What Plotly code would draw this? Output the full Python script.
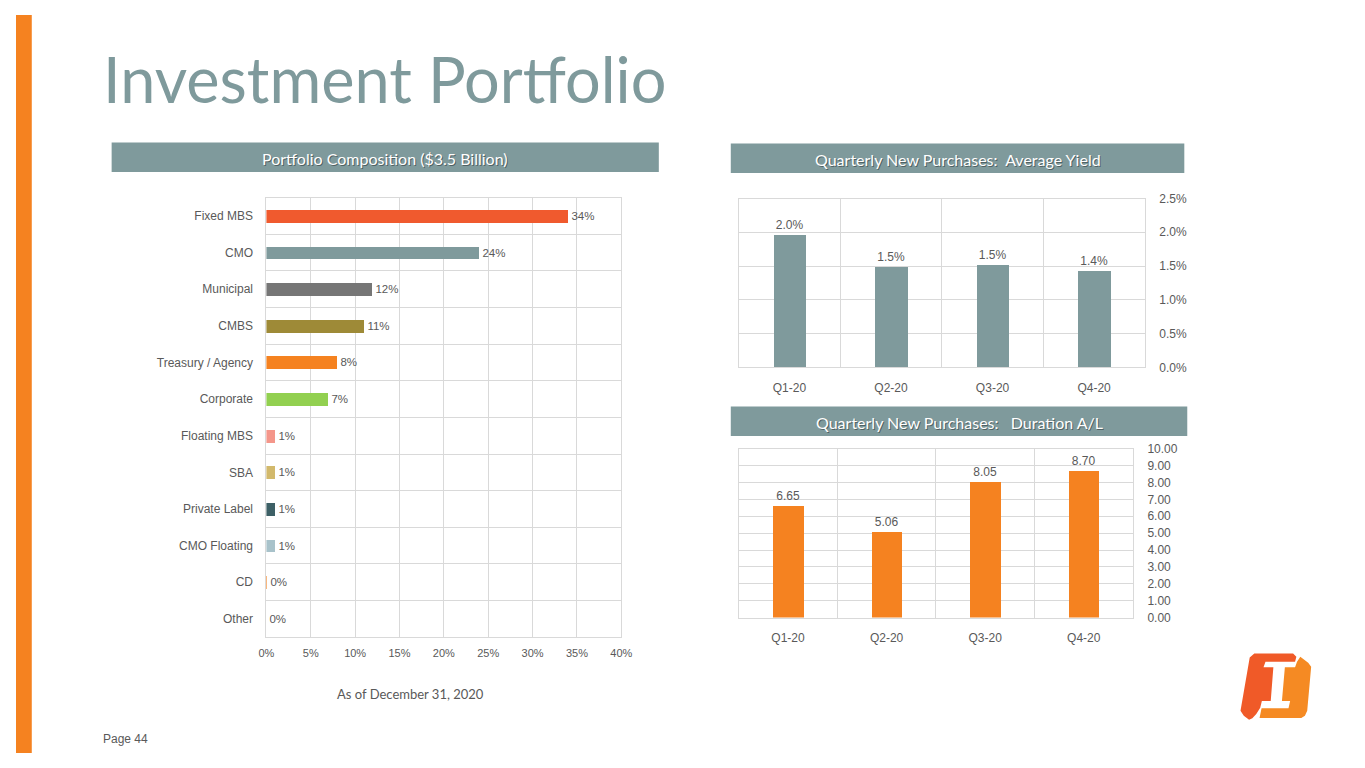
import plotly.graph_objects as go

# The page body keeps its default 8px margin, so the figure is drawn 16px smaller
# and every reference pixel position is shifted by that margin.
PAGE_W, PAGE_H = 1365, 768
OFF = 8
W, H = PAGE_W - 2 * OFF, PAGE_H - 2 * OFF

# ---------------- data ----------------
comp_categories = ["Fixed MBS", "CMO", "Municipal", "CMBS", "Treasury / Agency", "Corporate",
                   "Floating MBS", "SBA", "Private Label", "CMO Floating", "CD", "Other"]
comp_values = [34.0, 24.0, 12.0, 11.0, 8.0, 7.0, 1.0, 1.0, 1.0, 1.0, 0.1, 0.0]
comp_labels = ["34%", "24%", "12%", "11%", "8%", "7%", "1%", "1%", "1%", "1%", "0%", "0%"]
comp_colors = ["#F05A2E", "#7F9A9C", "#767676", "#9E8A37", "#F58220", "#92D050",
               "#F4968A", "#D2B96C", "#3D6066", "#A8C2CA", "#F58220", "#FFFFFF"]
comp_ticks = [0, 5, 10, 15, 20, 25, 30, 35, 40]
comp_ticktext = ["0%", "5%", "10%", "15%", "20%", "25%", "30%", "35%", "40%"]

quarters = ["Q1-20", "Q2-20", "Q3-20", "Q4-20"]
yield_values = [1.97, 1.49, 1.52, 1.44]
yield_ticks = [0.0, 0.5, 1.0, 1.5, 2.0, 2.5]
yield_ticktext = ["0.0%", "0.5%", "1.0%", "1.5%", "2.0%", "2.5%"]
duration_values = [6.65, 5.06, 8.05, 8.70]
duration_ticks = [0, 1, 2, 3, 4, 5, 6, 7, 8, 9, 10]
duration_ticktext = ["0.00", "1.00", "2.00", "3.00", "4.00", "5.00", "6.00", "7.00",
                     "8.00", "9.00", "10.00"]

# ---------------- helpers ----------------
def px(x):
    return (x - OFF) / W


def py(y):
    return 1 - (y - OFF) / H


SLATE = "#7F9A9C"
TXT = "#595959"
GRID = "#D9D9D9"
ORANGE = "#F58220"
FONT = "Liberation Sans, Arial, sans-serif"
HFONT = "Lato, Open Sans, sans-serif"

fig = go.Figure()

# Left: portfolio composition
fig.add_trace(go.Bar(
    x=comp_values, y=comp_categories, orientation="h",
    marker=dict(color=comp_colors, line=dict(width=0)),
    width=0.35,
    text=comp_labels, textposition="outside", cliponaxis=False,
    textfont=dict(size=11.5, color=TXT, family=FONT),
    xaxis="x", yaxis="y", showlegend=False,
))

# Right top: average yield
fig.add_trace(go.Bar(
    x=quarters, y=yield_values,
    marker=dict(color=SLATE, line=dict(width=0)),
    width=0.32,
    texttemplate="%{y:.1f}%", textposition="outside", cliponaxis=False,
    textfont=dict(size=12, color=TXT, family=FONT),
    xaxis="x2", yaxis="y2", showlegend=False,
))

# Right bottom: duration
fig.add_trace(go.Bar(
    x=quarters, y=duration_values,
    marker=dict(color=ORANGE, line=dict(width=0)),
    width=0.31,
    texttemplate="%{y:.2f}", textposition="outside", cliponaxis=False,
    textfont=dict(size=12, color=TXT, family=FONT),
    xaxis="x3", yaxis="y3", showlegend=False,
))

axis_common = dict(showgrid=True, gridcolor=GRID, gridwidth=1, zeroline=False,
                   showline=True, linecolor=GRID, linewidth=1, mirror=True,
                   ticks="", tickfont=dict(size=11, color=TXT, family=FONT), fixedrange=True)

fig.update_layout(
    width=W, height=H, autosize=False,
    margin=dict(l=0, r=0, t=0, b=0),
    paper_bgcolor="#FFFFFF", plot_bgcolor="rgba(0,0,0,0)",
    bargap=0.0,
    font=dict(family=FONT, color=TXT),
    xaxis=dict(axis_common, domain=[px(262), px(622)], range=[0, 40],
               tickmode="array", tickvals=comp_ticks, ticktext=comp_ticktext,
               anchor="y", ticklabelstandoff=6),
    yaxis=dict(axis_common, domain=[py(642), py(194)], type="category",
               categoryorder="array", categoryarray=comp_categories, autorange="reversed",
               tickson="boundaries", anchor="x", ticklabelstandoff=10,
               tickfont=dict(size=12, color=TXT, family=FONT)),
    xaxis2=dict(axis_common, domain=[px(741), px(1153)], type="category",
                tickson="boundaries", anchor="y2", ticklabelstandoff=9,
                tickfont=dict(size=12, color=TXT, family=FONT)),
    yaxis2=dict(axis_common, domain=[py(367), py(195)], range=[0, 2.5],
                tickmode="array", tickvals=yield_ticks, ticktext=yield_ticktext, side="right",
                anchor="x2", ticklabelstandoff=11,
                tickfont=dict(size=12, color=TXT, family=FONT)),
    xaxis3=dict(axis_common, domain=[px(741), px(1141)], type="category",
                tickson="boundaries", anchor="y3", ticklabelstandoff=9,
                tickfont=dict(size=12, color=TXT, family=FONT)),
    yaxis3=dict(axis_common, domain=[py(622), py(450)], range=[0, 10],
                tickmode="array", tickvals=duration_ticks, ticktext=duration_ticktext,
                side="right", anchor="x3", ticklabelstandoff=11,
                tickfont=dict(size=12, color=TXT, family=FONT)),
)

shapes = []
# orange strip on the left
shapes.append(dict(type="rect", xref="paper", yref="paper", x0=0, x1=px(24), y0=0, y1=1,
                   fillcolor=ORANGE, line=dict(width=0), layer="below"))
# header bars
for (x0, x1, y0, y1) in [(105, 660, 138, 168), (733, 1193, 139, 169), (733, 1196, 407, 437)]:
    shapes.append(dict(type="rect", xref="paper", yref="paper", x0=px(x0), x1=px(x1),
                       y0=py(y1), y1=py(y0), fillcolor=SLATE, line=dict(width=0), layer="below"))


# logo (decorative), points given in a 3x local frame anchored at (1240, 652)
def logo_path(pts):
    coords = [(1240 + a / 3, 652 + b / 3) for a, b in pts]
    d = "M " + " L ".join(f"{px(x):.5f},{py(y):.5f}" for x, y in coords) + " Z"
    return d


red_pts = [(58, 32), (72, 20), (190, 20), (200, 30), (196, 45), (106, 45), (100, 62), (130, 62),
           (122, 165), (95, 165), (90, 186), (78, 205), (66, 218), (56, 222), (40, 210), (30, 195)]
orange_pts = [(212, 30), (236, 48), (245, 60), (233, 195), (226, 210), (215, 217), (88, 217),
              (94, 187), (176, 187), (181, 165), (156, 165), (165, 62), (196, 62), (202, 45)]
for pts, col in [(red_pts, "#F05A28"), (orange_pts, "#F58A23")]:
    shapes.append(dict(type="path", xref="paper", yref="paper", path=logo_path(pts),
                       fillcolor=col, line=dict(width=0)))
fig.update_layout(shapes=shapes)

annotations = []
# title
annotations.append(dict(text="Investment Portfolio", xref="paper", yref="paper",
                        x=px(94), y=py(73), xanchor="left", yanchor="middle", showarrow=False,
                        font=dict(size=63, color=SLATE, family="Lato, sans-serif")))
# header texts with a soft shadow
headers = [("Portfolio Composition ($3.5 Billion)", (105 + 660) / 2, 154),
           ("Quarterly New Purchases:  Average Yield", (733 + 1193) / 2, 155),
           ("Quarterly New Purchases:   Duration A/L", (733 + 1196) / 2, 423)]
for txt, cx, cy in headers:
    t = txt.replace("  ", "&nbsp; ")
    annotations.append(dict(text=t, xref="paper", yref="paper",
                            x=px(cx + 1), y=py(cy + 1), xanchor="center", yanchor="middle",
                            showarrow=False,
                            font=dict(size=16, color="rgba(40,50,52,0.55)", family=HFONT)))
    annotations.append(dict(text=t, xref="paper", yref="paper",
                            x=px(cx), y=py(cy), xanchor="center", yanchor="middle",
                            showarrow=False, font=dict(size=16, color="#FFFFFF", family=HFONT)))
annotations.append(dict(text="As of December 31, 2020", xref="paper", yref="paper",
                        x=px(408), y=py(700), xanchor="center", yanchor="middle", showarrow=False,
                        font=dict(size=13, color=TXT, family=HFONT)))
annotations.append(dict(text="Page 44", xref="paper", yref="paper",
                        x=px(94), y=py(746), xanchor="left", yanchor="middle", showarrow=False,
                        font=dict(size=12, color=TXT, family=FONT)))
fig.update_layout(annotations=annotations)

fig.write_html("out.html", config={"displayModeBar": False})
